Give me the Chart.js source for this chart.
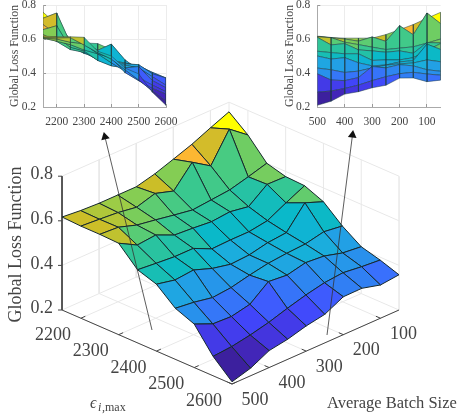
<!DOCTYPE html>
<html>
<head>
<meta charset="utf-8">
<style>
    html, body { margin: 0; padding: 0; background: #fff; }
    canvas { position: absolute; }
</style>
<script src="https://cdn.jsdelivr.net/npm/chart.js@4"></script>
</head>
<body>
<canvas id="mainChart" width="468" height="418" style="left:0;top:0"></canvas>
<canvas id="insetEps" width="185" height="130" style="left:0;top:0"></canvas>
<canvas id="insetBatch" width="185" height="130" style="left:275px;top:0"></canvas>
<script>
// grid of the surface
const epsValues = [2150, 2200, 2250, 2300, 2350, 2400, 2450, 2500, 2550, 2600];
const batchValues = [500, 450, 400, 350, 300, 250, 200, 150, 100, 50];

// loss per batch size (same order as batchValues), one list per epsilon
const loss2150 = [0.617, 0.609, 0.605, 0.605, 0.605, 0.626, 0.655, 0.685, 0.722, 0.757];
const loss2200 = [0.613, 0.607, 0.600, 0.587, 0.612, 0.586, 0.678, 0.625, 0.753, 0.690];
const loss2250 = [0.613, 0.608, 0.581, 0.567, 0.552, 0.538, 0.546, 0.554, 0.576, 0.600];
const loss2300 = [0.610, 0.565, 0.573, 0.536, 0.530, 0.522, 0.530, 0.516, 0.579, 0.577];
const loss2350 = [0.528, 0.520, 0.513, 0.513, 0.474, 0.477, 0.477, 0.490, 0.533, 0.573];
const loss2400 = [0.500, 0.482, 0.490, 0.460, 0.442, 0.447, 0.465, 0.473, 0.570, 0.538];
const loss2450 = [0.429, 0.419, 0.403, 0.411, 0.430, 0.446, 0.454, 0.459, 0.477, 0.466];
const loss2500 = [0.395, 0.359, 0.355, 0.373, 0.438, 0.430, 0.449, 0.442, 0.419, 0.410];
const loss2550 = [0.287, 0.294, 0.309, 0.329, 0.355, 0.378, 0.396, 0.404, 0.394, 0.387];
const loss2600 = [0.210, 0.234, 0.276, 0.290, 0.313, 0.328, 0.370, 0.371, 0.349, 0.358];
const lossGrid = [loss2150, loss2200, loss2250, loss2300, loss2350, loss2400, loss2450, loss2500, loss2550, loss2600];

// tick labels
const epsTicks = [2200, 2300, 2400, 2500, 2600];
const batchTicks = [500, 400, 300, 200, 100];
const lossTicks = [0.2, 0.4, 0.6, 0.8];

const textColor = '#444';
const serif = '"Liberation Serif", serif';

// loss -> colour
const colorStops = [
    [0.21, 60, 32, 158], [0.24, 68, 40, 190], [0.28, 68, 54, 225], [0.31, 65, 70, 250],
    [0.34, 60, 105, 255], [0.38, 45, 135, 240], [0.41, 36, 155, 232], [0.44, 28, 172, 222],
    [0.47, 8, 184, 204], [0.50, 24, 190, 180], [0.53, 50, 198, 150], [0.56, 78, 204, 125],
    [0.585, 130, 205, 85], [0.605, 165, 203, 65], [0.612, 203, 190, 40], [0.65, 225, 185, 45],
    [0.68, 255, 183, 50], [0.75, 255, 255, 0]
];

function faceColor(z) {
    if (z <= colorStops[0][0]) {
        return 'rgb(' + colorStops[0].slice(1).join(',') + ')';
    }
    for (var i = 1; i < colorStops.length; i++) {
        var a = colorStops[i - 1], b = colorStops[i];
        if (z <= b[0]) {
            var t = (z - a[0]) / (b[0] - a[0]);
            return 'rgb(' + [1, 2, 3].map(k => Math.round(a[k] + (b[k] - a[k]) * t)).join(',') + ')';
        }
    }
    return 'rgb(255,255,0)';
}

// 3d view of the big plot, orthographic
function project(eps, batch, loss) {
    var u = (eps - 2150) / 450;
    var v = (500 - batch) / 450;
    return {
        x: 62 + 170 * u + 167 * v,
        y: 310 + 74 * u - 74 * v - (loss - 0.2) * 223
    };
}

function lineSet(points, color, width) {
    return {
        data: points, showLine: true, fill: false, borderColor: color, borderWidth: width,
        pointRadius: 0, tension: 0
    };
}

function faceSet(points, color, edge, width) {
    return {
        data: points, showLine: true, fill: 'shape', backgroundColor: color, borderColor: edge,
        borderWidth: width, pointRadius: 0, tension: 0, borderJoinStyle: 'round'
    };
}

// corners of a mesh cell, mapped by toPoint
function cellPoints(i, j, toPoint) {
    return [[i, j], [i, j + 1], [i + 1, j + 1], [i + 1, j], [i, j]].map(c =>
        toPoint(epsValues[c[0]], batchValues[c[1]], lossGrid[c[0]][c[1]]));
}

function cellColor(i, j) {
    return faceColor(lossGrid[i + 1][j]);
}

function arrowSets(from, to, rotation) {
    var dx = to[0] - from[0], dy = to[1] - from[1];
    var len = Math.sqrt(dx * dx + dy * dy);
    var head = {x: to[0] - dx / len * 4, y: to[1] - dy / len * 4};
    return [
        {
            data: [head], pointStyle: 'triangle', pointRadius: 5, pointRotation: rotation,
            backgroundColor: '#111', borderColor: '#111', pointBorderWidth: 0
        },
        lineSet([{x: from[0], y: from[1]}, head], '#333', 0.8)
    ];
}

function buildMainDatasets() {
    var sets = [];
    var gridColor = '#e8e8e8', axisColor = '#444';

    // arrows sit on top of everything
    sets = sets.concat(arrowSets([152, 330], [104, 133], -13));
    sets = sets.concat(arrowSets([327, 335], [353, 131], 7));

    // surface, nearest cell first so it is painted last
    var cells = [];
    for (var i = 0; i < epsValues.length - 1; i++) {
        for (var j = 0; j < batchValues.length - 1; j++) {
            cells.push([i, j]);
        }
    }
    cells.sort((a, b) => (b[0] - b[1]) - (a[0] - a[1]));
    cells.forEach(c => {
        sets.push(faceSet(cellPoints(c[0], c[1], project), cellColor(c[0], c[1]), '#15282c', 1));
    });

    // front axes
    sets.push(lineSet([project(2150, 500, 0.8), project(2150, 500, 0.2), project(2600, 500, 0.2), project(2600, 50, 0.2)], axisColor, 1));
    lossTicks.forEach(z => {
        var p = project(2150, 500, z);
        sets.push(lineSet([p, {x: p.x - 4, y: p.y}], axisColor, 1));
    });
    epsTicks.forEach(e => {
        sets.push(lineSet([project(e, 500, 0.2), project(e, 488, 0.2)], axisColor, 1));
    });
    batchTicks.forEach(b => {
        sets.push(lineSet([project(2600, b, 0.2), project(2588, b, 0.2)], axisColor, 1));
    });

    // floor and back walls
    epsTicks.forEach(e => {
        sets.push(lineSet([project(e, 500, 0.2), project(e, 50, 0.2), project(e, 50, 0.8)], gridColor, 1));
    });
    batchTicks.forEach(b => {
        sets.push(lineSet([project(2150, b, 0.8), project(2150, b, 0.2), project(2600, b, 0.2)], gridColor, 1));
    });
    lossTicks.forEach(z => {
        sets.push(lineSet([project(2150, 500, z), project(2150, 50, z), project(2600, 50, z)], gridColor, 1));
    });
    sets.push(lineSet([project(2150, 50, 0.2), project(2150, 50, 0.8)], gridColor, 1));
    sets.push(lineSet([project(2600, 50, 0.2), project(2600, 50, 0.8)], gridColor, 1));
    return sets;
}

// all the text of the big plot
const mainLabels = {
    id: 'mainLabels',
    afterDraw(chart) {
        var ctx = chart.ctx;
        var sx = chart.scales.x, sy = chart.scales.y;
        ctx.save();
        ctx.fillStyle = textColor;
        ctx.font = '18px ' + serif;
        ctx.textBaseline = 'middle';
        ctx.textAlign = 'right';
        lossTicks.forEach(z => {
            var p = project(2150, 500, z);
            ctx.fillText(z.toFixed(1), sx.getPixelForValue(p.x - 9), sy.getPixelForValue(p.y - 1.5));
        });
        ctx.textAlign = 'center';
        epsTicks.forEach(e => {
            var p = project(e, 500, 0.2);
            ctx.fillText(String(e), sx.getPixelForValue(p.x - 28), sy.getPixelForValue(p.y + 17));
        });
        batchTicks.forEach(b => {
            var p = project(2600, b, 0.2);
            ctx.fillText(String(b), sx.getPixelForValue(p.x + 23), sy.getPixelForValue(p.y + 16));
        });

        ctx.font = '16.5px ' + serif;
        ctx.textAlign = 'left';
        ctx.fillText('Average Batch Size', 327, 404);

        ctx.font = 'italic 16px ' + serif;
        ctx.fillText('\u03f5', 90, 404);
        ctx.font = 'italic 12px ' + serif;
        ctx.fillText('i', 98, 408);
        ctx.font = '12px ' + serif;
        ctx.fillText(',max', 102, 408);

        ctx.translate(16, 244.5);
        ctx.rotate(-Math.PI / 2);
        ctx.textAlign = 'center';
        ctx.font = '18px ' + serif;
        ctx.fillText('Global Loss Function', 0, 0);
        ctx.restore();
    }
};

new Chart(document.getElementById('mainChart'), {
    type: 'scatter',
    data: {datasets: buildMainDatasets()},
    options: {
        responsive: false,
        animation: false,
        layout: {padding: 0, autoPadding: false},
        plugins: {legend: {display: false}, tooltip: {enabled: false}},
        scales: {
            x: {type: 'linear', min: 0, max: 468, display: false},
            y: {type: 'linear', min: 0, max: 418, reverse: true, display: false}
        }
    },
    plugins: [mainLabels]
});

// keeps the plot box where it is, whatever the tick labels want
function noLabelPadding(s) {
    s.paddingLeft = s.paddingRight = s.paddingTop = s.paddingBottom = 0;
}

function insetOptions(xMin, xMax, xTicks, reverse, paddingRight, leftSize) {
    return {
        responsive: false,
        animation: false,
        layout: {padding: {top: 5, right: paddingRight, left: 0, bottom: 0}, autoPadding: false},
        plugins: {legend: {display: false}, tooltip: {enabled: false}},
        scales: {
            x: {
                type: 'linear', min: xMin, max: xMax, reverse: reverse,
                afterBuildTicks: s => { s.ticks = xTicks.map(v => ({value: v})); },
                afterFit: s => { s.height = 23; noLabelPadding(s); },
                border: {color: '#aaa'},
                grid: {color: '#ececec', tickColor: '#999', tickLength: -3},
                ticks: {
                    color: textColor, font: {family: serif, size: 11.5}, padding: 11, maxRotation: 0,
                    callback: v => String(v)
                }
            },
            y: {
                type: 'linear', min: 0.2, max: 0.8,
                afterBuildTicks: s => { s.ticks = lossTicks.map(v => ({value: v})); },
                afterFit: s => { s.width = leftSize; noLabelPadding(s); },
                border: {color: '#aaa'},
                grid: {color: '#ececec', tickColor: '#999', tickLength: -3},
                title: {
                    display: true, text: 'Global Loss Function', color: textColor,
                    font: {family: serif, size: 11.8}, padding: {top: 8, bottom: 0}
                },
                ticks: {
                    color: textColor, font: {family: serif, size: 11.5}, padding: 10,
                    callback: v => v.toFixed(1)
                }
            }
        }
    };
}

// eps inset: looking along the batch axis, batch 500 in front
var epsSets = [];
for (var j = 0; j < batchValues.length - 1; j++) {
    for (var i = 0; i < epsValues.length - 1; i++) {
        epsSets.push(faceSet(cellPoints(i, j, (e, b, z) => ({x: e, y: z})), cellColor(i, j), '#1c3a40', 0.5));
    }
}
new Chart(document.getElementById('insetEps'), {
    type: 'scatter',
    data: {datasets: epsSets},
    options: insetOptions(2150, 2600, epsTicks, false, 19, 43)
});

// batch inset: looking along the eps axis, eps 2600 in front
var batchSets = [];
for (var i2 = epsValues.length - 2; i2 >= 0; i2--) {
    for (var j2 = 0; j2 < batchValues.length - 1; j2++) {
        batchSets.push(faceSet(cellPoints(i2, j2, (e, b, z) => ({x: b, y: z})), cellColor(i2, j2), '#1c3a40', 0.5));
    }
}
new Chart(document.getElementById('insetBatch'), {
    type: 'scatter',
    data: {datasets: batchSets},
    options: insetOptions(50, 500, batchTicks, true, 19.3, 42.3)
});
</script>
</body>
</html>
